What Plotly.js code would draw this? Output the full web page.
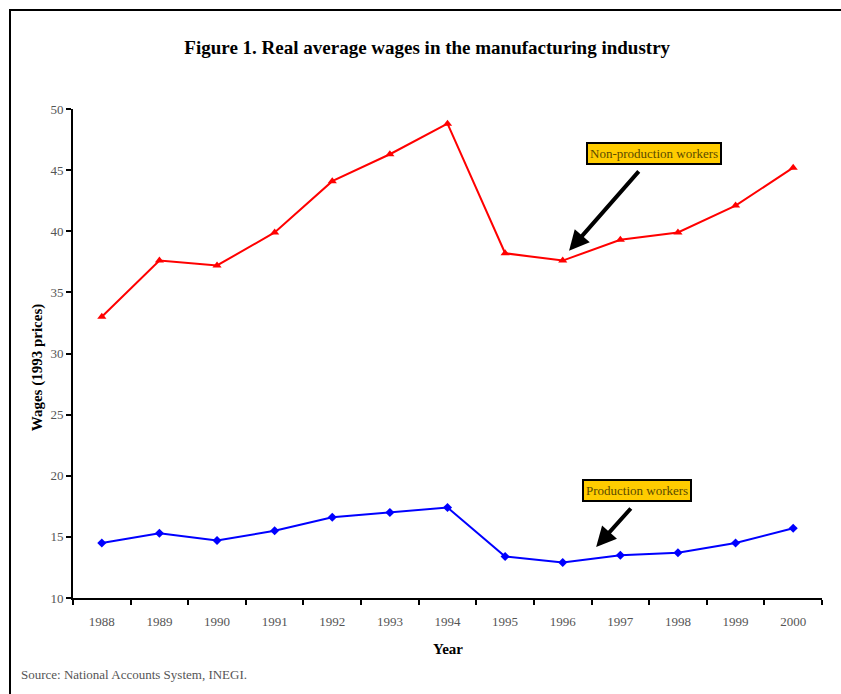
<!DOCTYPE html>
<html>
<head>
<meta charset="utf-8">
<script src="https://cdn.plot.ly/plotly-3.0.1.min.js"></script>
<style>
  html, body { margin: 0; padding: 0; background: #fff; overflow: hidden; }
  #frame { position: absolute; left: 9px; top: 9px; width: 900px; height: 800px;
           border-left: 2px solid #000; border-top: 2px solid #000; }
  #chart { position: absolute; left: 0; top: 0; width: 841px; height: 694px; }
</style>
</head>
<body>
<div id="frame"></div>
<div id="chart"></div>
<script>
// Real average wages (1993 prices), manufacturing industry
const years = ['1988','1989','1990','1991','1992','1993','1994','1995','1996','1997','1998','1999','2000'];
const nonProduction = [33.0, 37.6, 37.2, 39.9, 44.1, 46.3, 48.8, 38.2, 37.6, 39.3, 39.9, 42.1, 45.2];
const production    = [14.5, 15.3, 14.7, 15.5, 16.6, 17.0, 17.4, 13.4, 12.9, 13.5, 13.7, 14.5, 15.7];

const serif = 'Liberation Serif, Times New Roman, serif';
const tickFont = { family: serif, size: 13, color: '#555' };
const axisTitleFont = { family: serif, size: 15, color: '#000', weight: 'bold' };

const traces = [
  {
    x: years, y: nonProduction, type: 'scatter', mode: 'lines+markers',
    name: 'Non-production workers',
    line: { color: '#ff0000', width: 2 },
    marker: { symbol: 'triangle-up', size: 8, color: '#ff0000' }
  },
  {
    x: years, y: production, type: 'scatter', mode: 'lines+markers',
    name: 'Production workers',
    line: { color: '#0000ff', width: 2 },
    marker: { symbol: 'diamond', size: 7, color: '#0000ff' }
  }
];

const boxStyle = {
  showarrow: false, bgcolor: '#ffcc00', bordercolor: '#000', borderwidth: 2, borderpad: 2,
  font: { family: serif, size: 13, color: '#5a4a00' }, xref: 'paper', yref: 'paper'
};

const layout = {
  width: 841, height: 694,
  paper_bgcolor: 'rgba(0,0,0,0)', plot_bgcolor: 'rgba(0,0,0,0)',
  margin: { l: 73, r: 19, t: 109, b: 96 },
  showlegend: false,
  title: {
    text: 'Figure 1. Real average wages in the manufacturing industry',
    font: { family: serif, size: 19, color: '#000', weight: 'bold' },
    x: 0.508, xanchor: 'center', y: 0.932, yanchor: 'middle'
  },
  xaxis: {
    type: 'category', tickson: 'boundaries', range: [-0.5, 12.5],
    showline: true, linecolor: '#000', linewidth: 2,
    ticks: 'outside', ticklen: 5, tickwidth: 2, tickcolor: '#000',
    ticklabelstandoff: 10,
    showgrid: false, zeroline: false, tickfont: tickFont
  },
  yaxis: {
    range: [10, 50], dtick: 5, tick0: 10,
    showline: true, linecolor: '#000', linewidth: 2,
    ticks: 'outside', ticklen: 5, tickwidth: 2, tickcolor: '#000',
    showgrid: false, zeroline: false, tickfont: tickFont
  },
  annotations: [
    // axis titles
    { text: 'Year', xref: 'paper', yref: 'paper', x: 0.5, y: -0.104,
      xanchor: 'center', yanchor: 'middle', showarrow: false, font: axisTitleFont },
    { text: 'Wages (1993 prices)', xref: 'paper', yref: 'paper', x: -0.048, y: 0.47, textangle: -90,
      xanchor: 'center', yanchor: 'middle', showarrow: false, font: axisTitleFont },
    // series labels with pointer arrows
    Object.assign({ text: 'Non-production workers', x: 0.776, y: 0.908, xanchor: 'center', yanchor: 'middle' }, boxStyle),
    Object.assign({ text: 'Production workers', x: 0.753, y: 0.219, xanchor: 'center', yanchor: 'middle' }, boxStyle),
    {
      x: 8.11, y: 38.4, xref: 'x', yref: 'y', text: '', showarrow: true,
      ax: 71, ay: -81, arrowhead: 2, arrowsize: 1, arrowwidth: 4, arrowcolor: '#000'
    },
    {
      x: 8.58, y: 14.17, xref: 'x', yref: 'y', text: '', showarrow: true,
      ax: 36, ay: -40, arrowhead: 2, arrowsize: 1, arrowwidth: 4, arrowcolor: '#000'
    },
    {
      text: 'Source: National Accounts System, INEGI.', xref: 'paper', yref: 'paper',
      x: -0.072, y: -0.157, xanchor: 'left', yanchor: 'middle', showarrow: false,
      font: { family: serif, size: 13, color: '#555' }
    }
  ]
};

Plotly.newPlot('chart', traces, layout, { displayModeBar: false, staticPlot: true });
</script>
</body>
</html>
